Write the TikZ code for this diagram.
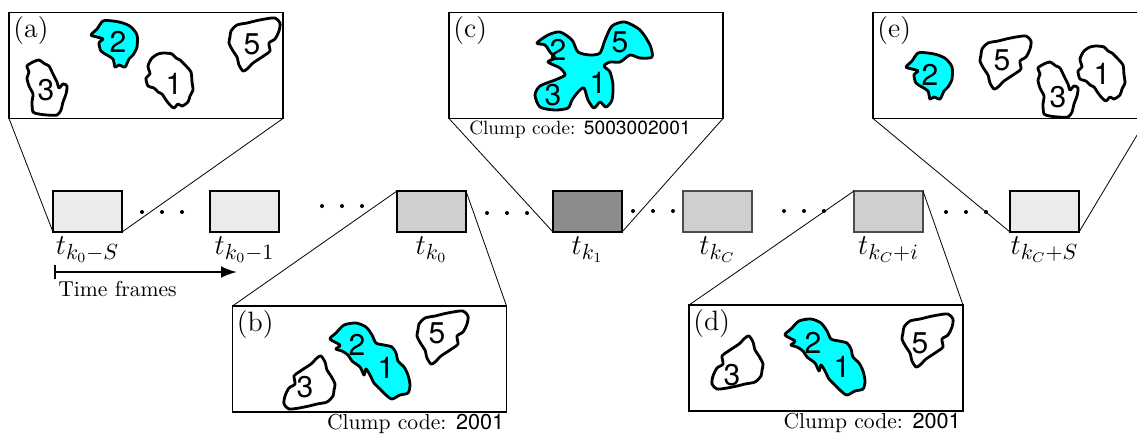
\documentclass[tikz,border=0pt]{standalone}
\usepackage{fontspec}
\newfontfamily\helv{TeX Gyre Heros}
\usetikzlibrary{arrows.meta,positioning,calc}
\definecolor{clumpcyan}{RGB}{0,255,255}
\tikzset{
    frame/.style={draw, line width=1.2pt, minimum width=34.5pt, minimum height=20.5pt, inner sep=0pt, outer sep=0pt},
    zoombox/.style={draw, thick, fill=white, minimum width=137pt, minimum height=53pt, inner sep=0pt, outer sep=0pt},
    zoomline/.style={thin},
    clump/.style={line width=1.4pt, line join=round},
    num/.style={font=\helv\fontsize{15}{15}\selectfont, inner sep=0pt},
    tag/.style={font=\fontsize{14}{14}\selectfont, anchor=north west, inner sep=2pt},
    tlabel/.style={font=\fontsize{15}{15}\selectfont, inner sep=1pt},
    code/.style={font=\fontsize{10.8}{11}\selectfont, inner sep=1pt},
    timearrow/.style={line width=1.2pt, {Bar[width=7pt]}-{Latex[length=8pt, width=6pt]}},
    lumpA/.pic={\draw[clump, pic actions] plot[smooth cycle, tension=0.45] coordinates {(-6,-27) (2,-26) (6,-22) (10,-20) (16,-14) (21,-8) (22,2) (23,10) (20,16) (18,22) (12,26) (8,24) (4,28) (0,25) (-4,20) (-8,14) (-12,12) (-16,8) (-22,6) (-24,-2) (-20,-6) (-22,-14) (-18,-22) (-12,-26)};},
    lumpB/.pic={\draw[clump, pic actions] plot[smooth cycle, tension=0.45] coordinates {(-14,-26) (-8,-28) (-2,-24) (2,-22) (6,-14) (10,-6) (12,0) (16,-4) (20,-2) (19,6) (16,14) (14,22) (10,27) (0,27) (-8,26) (-14,24) (-15,14) (-14,6) (-18,-2) (-20,-10) (-18,-16) (-20,-22)};},
    lumpC/.pic={\draw[clump, pic actions] plot[smooth cycle, tension=0.45] coordinates {(-24,-14) (-18,-20) (-8,-22) (0,-24) (10,-26) (20,-27) (25,-22) (24,-14) (20,-6) (14,-2) (15,6) (10,10) (4,14) (-2,18) (-8,24) (-12,26) (-16,20) (-18,12) (-22,6) (-26,-2) (-25,-8)};},
    lumpD/.pic={\draw[clump, pic actions] plot[smooth cycle, tension=0.45] coordinates {(-24,-8) (-18,-14) (-12,-22) (-2,-22) (8,-20) (16,-16) (22,-8) (22,4) (18,12) (14,16) (10,24) (4,22) (0,24) (-2,16) (-8,12) (-14,8) (-16,0) (-12,-4) (-18,-6)};},
    lumpPair/.pic={\draw[clump, pic actions] plot[smooth cycle, tension=0.45] coordinates {(-40,-22) (-34,-28) (-26,-36) (-14,-38) (-4,-34) (2,-26) (6,-18) (14,-16) (22,-14) (26,-8) (28,0) (34,6) (38,14) (40,24) (38,32) (30,34) (22,38) (16,34) (10,28) (4,22) (0,14) (-4,8) (-6,14) (-10,6) (-18,0) (-22,-6) (-28,-10) (-34,-12) (-30,-16)};}
}

\begin{document}
\begin{tikzpicture}[x=0.5pt, y=-0.5pt]
\useasboundingbox (0,0) rectangle (1137,435);

% time frames
\node[frame, fill=black!8] (f1) at (87.5,211.5) {};
\node[frame, fill=black!8, right=44pt of f1] (f2) {};
\node[frame, fill=black!19, right=59pt of f2] (f3) {};
\node[frame, fill=black!45, right=43.5pt of f3] (f4) {};
\node[frame, fill=black!19, draw=black!70, right=30.5pt of f4] (f5) {};
\node[frame, fill=black!19, draw=black!70, right=51pt of f5] (f6) {};
\node[frame, fill=black!8, right=43.5pt of f6] (f7) {};

\node[tlabel, below=1pt of f1] (l1) {$t_{k_0-S}$};
\node[tlabel, below=1pt of f2] (l2) {$t_{k_0-1}$};
\node[tlabel, below=1pt of f3] (l3) {$t_{k_0}$};
\node[tlabel, below=1pt of f4] (l4) {$t_{k_1}$};
\node[tlabel, below=1pt of f5] (l5) {$t_{k_C}$};
\node[tlabel, below=1pt of f6] (l6) {$t_{k_C+i}$};
\node[tlabel, below=1pt of f7] (l7) {$t_{k_C+S}$};

\foreach \s/\y in {142/212, 322/206, 487/213, 633/211, 784/211, 946/212}
    \foreach \d in {0,20,40}
        \fill (\s+\d,\y) circle (1pt);

% time axis
\coordinate (tf0) at (54,272);
\coordinate (tf1) at (237,272);
\draw[timearrow] (tf0) -- (tf1);
\node[code, anchor=west] (tflabel) at (56,289) {Time frames};

% zoomed frames
\node[zoombox] (za) at (146,65.5) {};
\node[zoombox] (zc) at (586,65.5) {};
\node[zoombox] (ze) at (1010,65.5) {};
\node[zoombox] (zb) at (369.5,359) {};
\node[zoombox] (zd) at (826,358) {};

\draw[zoomline] (za.south west) -- (f1.south west);
\draw[zoomline] (za.south east) -- (f1.south east);
\draw[zoomline] (zc.south west) -- (f4.south west);
\draw[zoomline] (zc.south east) -- (f4.south east);
\draw[zoomline] (ze.south west) -- (f7.south west);
\draw[zoomline] (ze.south east) -- (f7.south east);
\draw[zoomline] (zb.north west) -- (f3.north west);
\draw[zoomline] (zb.north east) -- (f3.north east);
\draw[zoomline] (zd.north west) -- (f6.north west);
\draw[zoomline] (zd.north east) -- (f6.north east);

\node[tag] (ta) at (za.north west) {(a)};
\node[tag] (tb) at (zb.north west) {(b)};
\node[tag] (tc) at (zc.north west) {(c)};
\node[tag] (td) at (zd.north west) {(d)};
\node[tag] (te) at (ze.north west) {(e)};

% (a)
\pic[fill=clumpcyan] at (115,43) {lumpD};
\pic at (47,88) {lumpB};
\pic at (170,80) {lumpA};
\pic at (255,45) {lumpC};
\node[num] (a2) at (118,42) {2};
\node[num] (a3) at (46,90) {3};
\node[num] (a1) at (174,84) {1};
\node[num] (a5) at (252,44) {5};

% (b)
\pic[rotate=180] at (309,382) {lumpC};
\pic[fill=clumpcyan] at (370,361) {lumpPair};
\pic at (443,338) {lumpC};
\node[num] (b3) at (305,387) {3};
\node[num] (b2) at (357,345) {2};
\node[num] (b1) at (386,368) {1};
\node[num] (b5) at (437,333) {5};
\node[code, anchor=north east] (cb) at (zb.south east) {Clump code: {\helv 2001}};

% (c)
\draw[clump, fill=clumpcyan] plot[smooth cycle, tension=0.45] coordinates {(537,43) (548,35) (560,32) (572,40) (578,52) (590,55) (600,53) (605,40) (612,26) (625,22) (640,30) (650,45) (652,57) (640,58) (630,55) (620,62) (610,62) (604,66) (610,72) (613,85) (612,100) (606,107) (600,102) (594,108) (588,100) (584,88) (578,92) (572,100) (568,108) (555,110) (540,107) (535,95) (540,86) (555,80) (565,75) (560,68) (548,62) (555,58) (550,52) (545,45)};
\node[num] (c2) at (558,50) {2};
\node[num] (c5) at (620,42) {5};
\node[num] (c3) at (553,95) {3};
\node[num] (c1) at (598,83) {1};
\node[code, font=\fontsize{9.6}{10}\selectfont, anchor=north] (cc) at ($(zc.south)+(-6,0)$) {Clump code: {\helv 5003002001}};

% (d)
\pic[rotate=180] at (737,362) {lumpC};
\pic[fill=clumpcyan] at (825,357) {lumpPair};
\pic at (928,341) {lumpC};
\node[num] (d3) at (732,375) {3};
\node[num] (d2) at (813,343) {2};
\node[num] (d1) at (842,367) {1};
\node[num] (d5) at (920,343) {5};
\node[code, anchor=north east] (cd) at (zd.south east) {Clump code: {\helv 2001}};

% (e)
\pic[fill=clumpcyan] at (930,75) {lumpD};
\pic at (1006,63) {lumpC};
\pic at (1058,90) {lumpB};
\pic at (1102,73) {lumpA};
\node[num] (e2) at (930,75) {2};
\node[num] (e5) at (1002,60) {5};
\node[num] (e3) at (1058,97) {3};
\node[num] (e1) at (1102,74) {1};
\end{tikzpicture}
\end{document}
